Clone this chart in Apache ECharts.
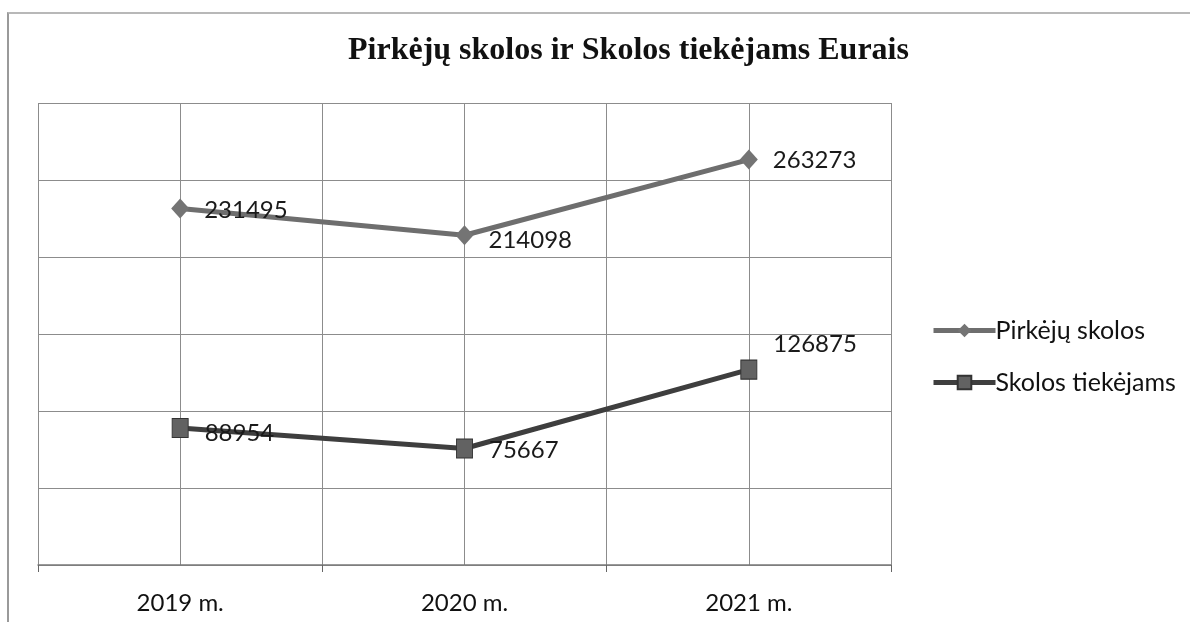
<!DOCTYPE html>
<html>
<head>
<meta charset="utf-8">
<script src="https://cdn.jsdelivr.net/npm/echarts@6/dist/echarts.min.js"></script>
<style>
  html, body { margin: 0; padding: 0; background: #fff; }
  #chart { position: absolute; left: 0; top: 0; width: 1190px; height: 622px; }
  #frame { position: absolute; left: 7px; top: 12px; width: 1190px; height: 620px;
           border-top: 2px solid #b8b8b8; border-left: 2px solid #9a9a9a; pointer-events: none; }
</style>
</head>
<body>
<div id="chart"></div>
<div id="frame"></div>
<script>
var titleText = 'Pirkėjų skolos ir Skolos tiekėjams Eurais';
var years = ['2019 m.', '2020 m.', '2021 m.'];
var seriesNames = ['Pirkėjų skolos', 'Skolos tiekėjams'];
var pirkejuSkolos = [231495, 214098, 263273];
var skolosTiekejams = [88954, 75667, 126875];
var halfSlots = ['', '', '', '', '', ''];

window.onload = function () {
  var chart = echarts.init(document.getElementById('chart'));
  var font = 'Lato, "Open Sans", sans-serif';

  // label offsets per point (x, y) - the 2021 supplier label sits above the point
  var offA = [[0, 2], [0, 5], [0, 1]];
  var offB = [[0, 5], [0, 2], [0, -25]];

  function withLabels(vals, offs) {
    return vals.map(function (v, i) {
      return { value: v, label: { offset: offs[i] } };
    });
  }

  chart.setOption({
    animation: false,
    title: {
      text: titleText,
      left: 343,
      top: 30,
      textStyle: {
        fontFamily: '"Liberation Serif", "Times New Roman", serif',
        fontWeight: 'bold',
        fontSize: 32,
        color: '#111'
      }
    },
    legend: {
      orient: 'vertical',
      left: 926,
      top: 313,
      itemWidth: 62,
      itemHeight: 17,
      itemGap: 27,
      lineStyle: { width: 5 },
      textStyle: { fontFamily: font, fontSize: 25, color: '#111', padding: [0, 0, 0, -5] },
      data: seriesNames
    },
    grid: { left: 38, right: 299, top: 103, bottom: 57 },
    xAxis: [{
      type: 'category',
      data: years,
      boundaryGap: true,
      axisLine: { lineStyle: { color: '#7a7a7a', width: 1.5 } },
      axisTick: { show: true, length: 7, lineStyle: { color: '#666' } },
      axisLabel: { fontFamily: font, fontSize: 24, color: '#111', margin: 26 },
      splitLine: { show: false }
    }, {
      type: 'category',
      data: halfSlots,
      position: 'top',
      boundaryGap: true,
      axisLine: { show: false },
      axisTick: { show: false },
      axisLabel: { show: false },
      splitLine: { show: true, interval: 0, lineStyle: { color: '#8c8c8c', width: 1 } }
    }],
    yAxis: {
      type: 'value',
      min: 0,
      max: 300000,
      interval: 50000,
      axisLine: { show: false },
      axisTick: { show: false },
      axisLabel: { show: false },
      splitLine: { lineStyle: { color: '#8c8c8c', width: 1 } }
    },
    series: [{
      name: seriesNames[0],
      type: 'line',
      data: withLabels(pirkejuSkolos, offA),
      symbol: 'diamond',
      symbolSize: [18, 20],
      lineStyle: { color: '#6e6e6e', width: 5 },
      itemStyle: { color: '#747474' },
      label: {
        show: true, position: 'right', distance: 15,
        fontFamily: font, fontSize: 24, color: '#1a1a1a'
      }
    }, {
      name: seriesNames[1],
      type: 'line',
      data: withLabels(skolosTiekejams, offB),
      symbol: 'rect',
      symbolSize: [16, 19],
      lineStyle: { color: '#3e3e3e', width: 5 },
      itemStyle: { color: '#626262', borderColor: '#333', borderWidth: 1 },
      label: {
        show: true, position: 'right', distance: 16,
        fontFamily: font, fontSize: 24, color: '#1a1a1a'
      }
    }]
  });
};
</script>
</body>
</html>
